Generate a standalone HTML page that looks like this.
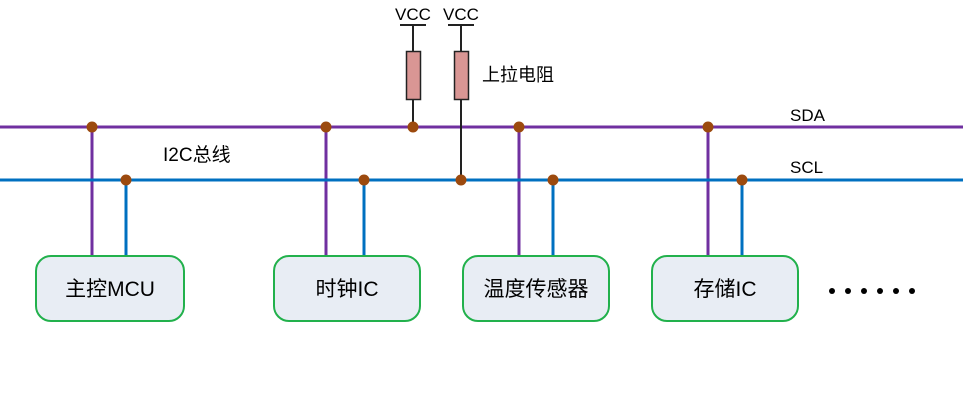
<!DOCTYPE html>
<html><head><meta charset="utf-8"><style>
body{margin:0;background:#fff;width:963px;height:400px;overflow:hidden}
</style></head><body>
<svg width="963" height="400" xmlns="http://www.w3.org/2000/svg" font-family="Liberation Sans, Noto Sans CJK SC, sans-serif">
<g stroke="#7030a0" stroke-width="3">
<line x1="0" y1="127" x2="963" y2="127"/>
<line x1="92" y1="127" x2="92" y2="256"/>
<line x1="326" y1="127" x2="326" y2="256"/>
<line x1="519" y1="127" x2="519" y2="256"/>
<line x1="708" y1="127" x2="708" y2="256"/>
</g>
<g stroke="#0070c0" stroke-width="3">
<line x1="0" y1="180" x2="963" y2="180"/>
<line x1="126" y1="180" x2="126" y2="256"/>
<line x1="364" y1="180" x2="364" y2="256"/>
<line x1="553" y1="180" x2="553" y2="256"/>
<line x1="742" y1="180" x2="742" y2="256"/>
</g>
<g stroke="#222" stroke-width="2">
<line x1="413" y1="25" x2="413" y2="127"/>
<line x1="461" y1="25" x2="461" y2="180"/>
<line x1="400" y1="25" x2="426" y2="25"/>
<line x1="448" y1="25" x2="474" y2="25"/>
</g>
<rect x="406.5" y="51.5" width="14" height="48" fill="#d99694" stroke="#222" stroke-width="1.5"/>
<rect x="454.5" y="51.5" width="14" height="48" fill="#d99694" stroke="#222" stroke-width="1.5"/>
<g font-size="17" fill="#000">
<text x="413" y="20" text-anchor="middle">VCC</text>
<text x="461" y="20" text-anchor="middle">VCC</text>
<text x="482" y="81" font-size="18">上拉电阻</text>
<text x="790" y="121">SDA</text>
<text x="790" y="173">SCL</text>
<text x="163" y="161" font-size="19">I2C总线</text>
</g>
<g fill="#9c4a0e">
<circle cx="92" cy="127" r="5.5"/><circle cx="326" cy="127" r="5.5"/><circle cx="413" cy="127" r="5.5"/>
<circle cx="519" cy="127" r="5.5"/><circle cx="708" cy="127" r="5.5"/>
<circle cx="126" cy="180" r="5.5"/><circle cx="364" cy="180" r="5.5"/><circle cx="461" cy="180" r="5.5"/>
<circle cx="553" cy="180" r="5.5"/><circle cx="742" cy="180" r="5.5"/>
</g>
<g fill="#e8edf4" stroke="#22b14c" stroke-width="2">
<rect x="36" y="256" width="148" height="65" rx="15"/>
<rect x="274" y="256" width="146" height="65" rx="15"/>
<rect x="463" y="256" width="146" height="65" rx="15"/>
<rect x="652" y="256" width="146" height="65" rx="15"/>
</g>
<g font-size="21" fill="#000" text-anchor="middle">
<text x="110" y="296">主控MCU</text>
<text x="347" y="296">时钟IC</text>
<text x="536" y="296">温度传感器</text>
<text x="725" y="296">存储IC</text>
</g>
<g fill="#000">
<circle cx="832" cy="291" r="3"/><circle cx="848" cy="291" r="3"/><circle cx="864" cy="291" r="3"/>
<circle cx="880" cy="291" r="3"/><circle cx="896" cy="291" r="3"/><circle cx="912" cy="291" r="3"/>
</g>
</svg>
</body></html>
